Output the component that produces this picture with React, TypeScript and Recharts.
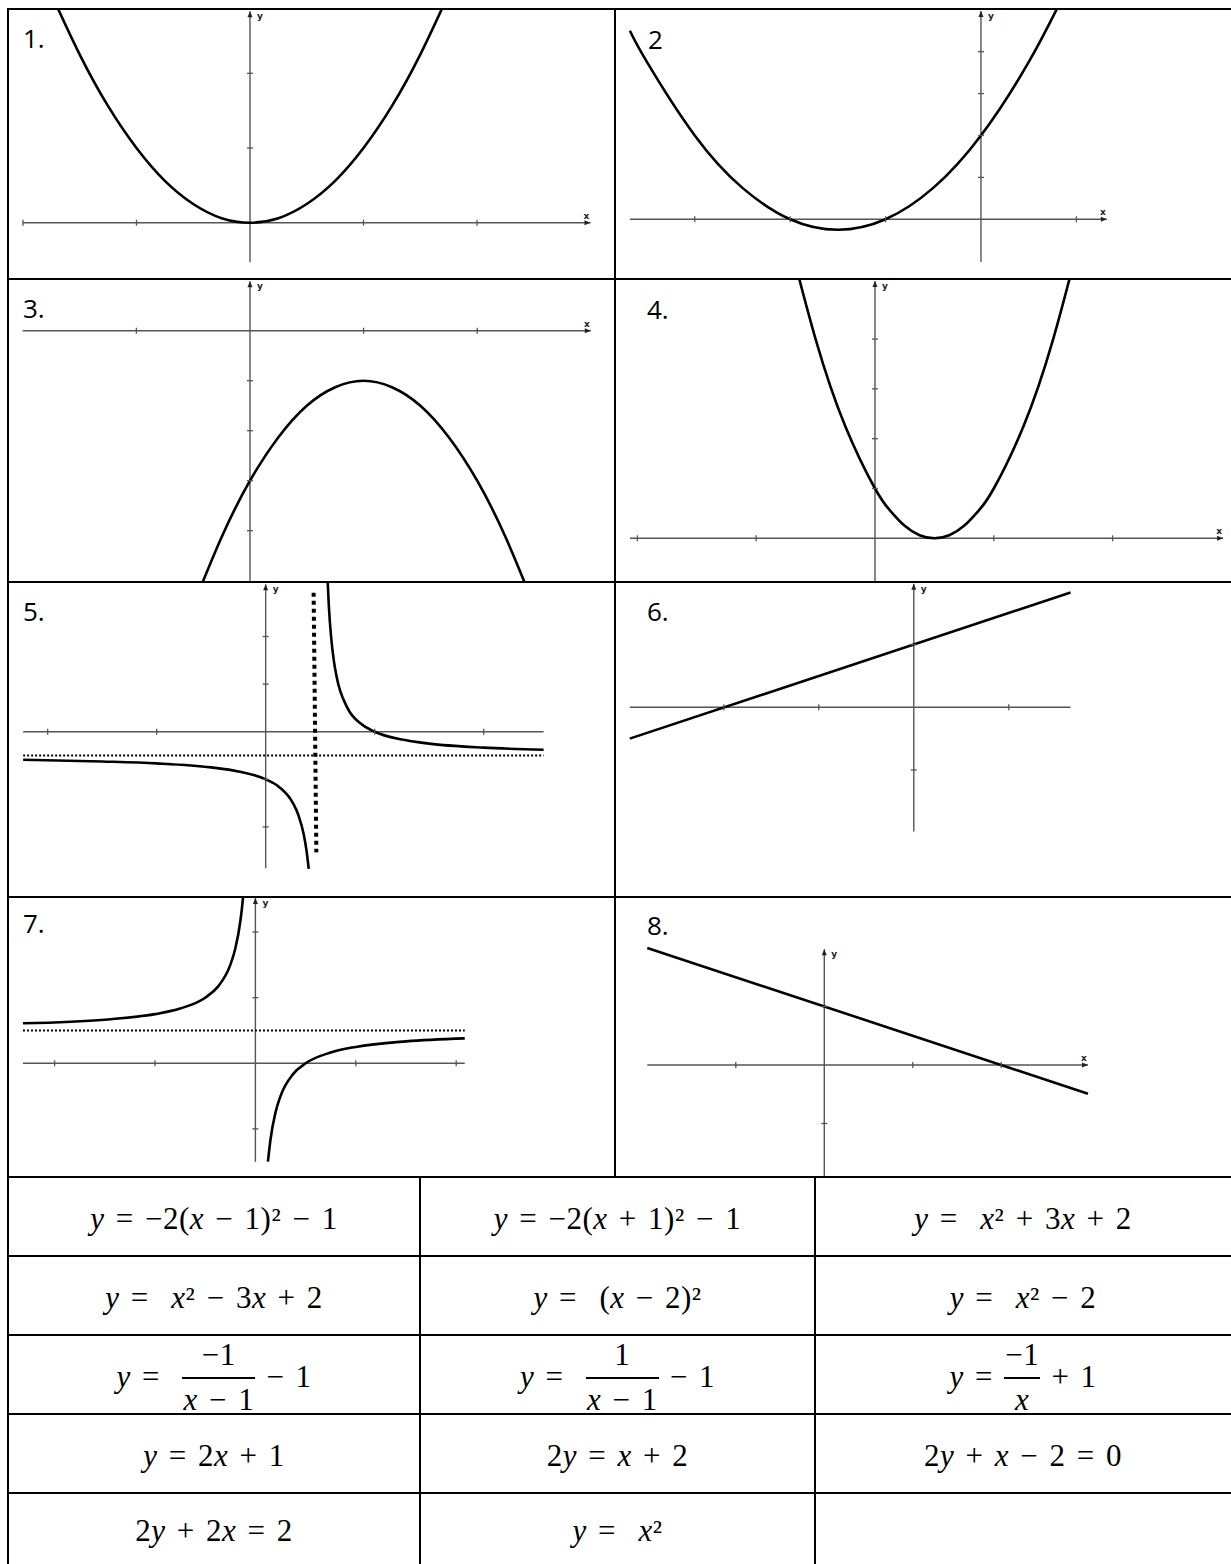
import React from 'react';
import { LineChart, Line, XAxis, YAxis, ReferenceLine, ReferenceDot } from 'recharts';

// ---- values ----

// 1. y = x^2
const G1_X = [-1.75, -1.5, -1.25, -1, -0.75, -0.5, -0.25, 0, 0.25, 0.5, 0.75, 1, 1.25, 1.5, 1.75];
const G1_Y = [3.06, 2.25, 1.56, 1, 0.56, 0.25, 0.06, 0, 0.06, 0.25, 0.56, 1, 1.56, 2.25, 3.06];
const G1_XTICKS = [-2, -1, 1, 2];
const G1_YTICKS = [1, 2];
const G1_XAXIS = [-2, 3];
const G1_YAXIS = [-0.53, 2.83];

// 2. y = x^2 + 3x + 2
const G2_X = [-3.68, -3.5, -3, -2.5, -2, -1.5, -1, -0.5, 0, 0.5, 0.85];
const G2_Y = [4.5, 3.75, 2, 0.75, 0, -0.25, 0, 0.75, 2, 3.75, 5.27];
const G2_XTICKS = [-3, -2, -1, 1];
const G2_YTICKS = [1, 2, 3, 4];
const G2_XAXIS = [-3.68, 1.32];
const G2_YAXIS = [-1.02, 4.97];

// 3. y = -2(x - 1)^2 - 1
const G3_X = [-0.5, -0.25, 0, 0.25, 0.5, 0.75, 1, 1.25, 1.5, 1.75, 2, 2.25, 2.5];
const G3_Y = [-5.5, -4.13, -3, -2.13, -1.5, -1.13, -1, -1.13, -1.5, -2.13, -3, -4.13, -5.5];
const G3_XTICKS = [-1, 1, 2];
const G3_YTICKS = [-1, -2, -3, -4];
const G3_XAXIS = [-2, 3];
const G3_YAXIS = [-5.1, 0.99];

// 4. y = (x - 2)^2
const G4_X = [-3, -2, -1, 0, 0.5, 1, 1.5, 2, 2.5, 3, 3.5, 4, 5, 6, 7];
const G4_Y = [25, 16, 9, 4, 2.25, 1, 0.25, 0, 0.25, 1, 2.25, 4, 9, 16, 25];
const G4_XTICKS = [-8, -4, 4, 8];
const G4_YTICKS = [4, 8, 12, 16];
const G4_XAXIS = [-8.25, 11.72];
const G4_YAXIS = [-3.6, 20.67];

// 5. y = 1/(x - 1) - 1
const G5A_X = [-4.45, -3, -2, -1, -0.5, 0, 0.25, 0.5, 0.6, 0.7, 0.75, 0.79];
const G5A_Y = [-1.18, -1.25, -1.33, -1.5, -1.67, -2, -2.33, -3, -3.5, -4.33, -5, -5.76];
const G5B_X = [1.13, 1.16, 1.2, 1.25, 1.3, 1.5, 1.75, 2, 2.5, 3, 4, 5.1];
const G5B_Y = [6.69, 5.25, 4, 3, 2.33, 1, 0.33, 0, -0.33, -0.5, -0.67, -0.76];
const G5_HASYM = [-4.45, 5.1, -1];
const G5_VASYM = [0.88, 5.84, 0.93, -5.07];
const G5_XTICKS = [-4, -2, 2, 4];
const G5_YTICKS = [4, 2, -2, -4];
const G5_XAXIS = [-4.45, 5.1];
const G5_YAXIS = [-5.74, 6.2];

// 6. 2y = x + 2
const G6_X = [-2.99, 1.65];
const G6_Y = [-0.5, 1.83];
const G6_XTICKS = [-2, -1, 1];
const G6_YTICKS = [1, -1];
const G6_XAXIS = [-2.99, 1.65];
const G6_YAXIS = [-1.98, 1.97];

// 7. y = -1/x + 1
const G7A_X = [-4.63, -3, -2, -1.5, -1, -0.75, -0.5, -0.4, -0.3, -0.25, -0.22];
const G7A_Y = [1.22, 1.33, 1.5, 1.67, 2, 2.33, 3, 3.5, 4.33, 5, 5.55];
const G7B_X = [0.25, 0.3, 0.4, 0.5, 0.75, 1, 1.5, 2, 3, 4.17];
const G7B_Y = [-3, -2.33, -1.5, -1, -0.33, 0, 0.33, 0.5, 0.67, 0.76];
const G7_HASYM = [-4.63, 4.17, 1];
const G7_XTICKS = [-4, -2, 2, 4];
const G7_YTICKS = [4, 2, -2];
const G7_XAXIS = [-4.63, 4.17];
const G7_YAXIS = [-3, 5.04];

// 8. 2y + x - 2 = 0
const G8_X = [-2, 2.98];
const G8_Y = [2, -0.49];
const G8_XTICKS = [-1, 1, 2];
const G8_YTICKS = [1, -1];
const G8_XAXIS = [-2, 2.98];
const G8_YAXIS = [-1.98, 1.98];

// ---- equations in the answer table ----
const ROW1 = ['y = −2(x − 1)² − 1', 'y = −2(x + 1)² − 1', 'y =  x² + 3x + 2'];
const ROW2 = ['y =  x² − 3x + 2', 'y =  (x − 2)²', 'y =  x² − 2'];
const ROW3 = ['y =  {−1|x − 1} − 1', 'y =  {1|x − 1} − 1', 'y = {−1|x} + 1'];
const ROW4 = ['y = 2x + 1', '2y = x + 2', '2y + x − 2 = 0'];
const ROW5 = ['2y + 2x = 2', 'y =  x²', ''];

type Pt = { x: number; y: number };
const pts = (xs: number[], ys: number[]): Pt[] => xs.map((x, i) => ({ x, y: ys[i] }));

const AXIS = '#555';

interface Curve { data: Pt[]; type: 'natural' | 'monotone' | 'linear' }
interface Guide { a: Pt; b: Pt; width: number; dash: string }
interface Panel {
  label: string;
  labelLeft: number; labelTop: number;
  left: number; top: number; width: number; height: number;
  xDomain: [number, number]; yDomain: [number, number];
  xAxis: number[]; yAxis: number[];
  xTicks: number[]; yTicks: number[];
  xArrow: boolean;
  curves: Curve[];
  guides: Guide[];
}

const PANELS: Panel[] = [
  {
    label: '1.', labelLeft: 23, labelTop: 25,
    left: 8, top: 9, width: 607, height: 270,
    xDomain: [-2.132, 3.216], yDomain: [-0.754, 2.861],
    xAxis: G1_XAXIS, yAxis: G1_YAXIS, xTicks: G1_XTICKS, yTicks: G1_YTICKS, xArrow: true,
    curves: [{ data: pts(G1_X, G1_Y), type: 'natural' }], guides: [],
  },
  {
    label: '2', labelLeft: 648, labelTop: 26,
    left: 615, top: 9, width: 616, height: 270,
    xDomain: [-3.836, 2.621], yDomain: [-1.425, 5.019],
    xAxis: G2_XAXIS, yAxis: G2_YAXIS, xTicks: G2_XTICKS, yTicks: G2_YTICKS, xArrow: true,
    curves: [{ data: pts(G2_X, G2_Y), type: 'natural' }], guides: [],
  },
  {
    label: '3.', labelLeft: 23, labelTop: 295,
    left: 8, top: 279, width: 607, height: 303,
    xDomain: [-2.13, 3.213], yDomain: [-5.026, 1.034],
    xAxis: G3_XAXIS, yAxis: G3_YAXIS, xTicks: G3_XTICKS, yTicks: G3_YTICKS, xArrow: true,
    curves: [{ data: pts(G3_X, G3_Y), type: 'natural' }], guides: [],
  },
  {
    label: '4.', labelLeft: 647, labelTop: 296,
    left: 615, top: 279, width: 616, height: 303,
    xDomain: [-8.754, 11.987], yDomain: [-3.51, 20.827],
    xAxis: G4_XAXIS, yAxis: G4_YAXIS, xTicks: G4_XTICKS, yTicks: G4_YTICKS, xArrow: true,
    curves: [{ data: pts(G4_X, G4_Y), type: 'natural' }], guides: [],
  },
  {
    label: '5.', labelLeft: 23, labelTop: 598,
    left: 8, top: 582, width: 607, height: 315,
    xDomain: [-4.728, 6.41], yDomain: [-6.945, 6.29],
    xAxis: G5_XAXIS, yAxis: G5_YAXIS, xTicks: G5_XTICKS, yTicks: G5_YTICKS, xArrow: false,
    curves: [
      { data: pts(G5A_X, G5A_Y), type: 'monotone' },
      { data: pts(G5B_X, G5B_Y), type: 'monotone' },
    ],
    guides: [
      { a: { x: G5_HASYM[0], y: G5_HASYM[2] }, b: { x: G5_HASYM[1], y: G5_HASYM[2] }, width: 2, dash: '2 2' },
      { a: { x: G5_VASYM[0], y: G5_VASYM[1] }, b: { x: G5_VASYM[2], y: G5_VASYM[3] }, width: 4, dash: '4 4' },
    ],
  },
  {
    label: '6.', labelLeft: 647, labelTop: 598,
    left: 615, top: 582, width: 616, height: 315,
    xDomain: [-3.145, 3.339], yDomain: [-3.026, 1.998],
    xAxis: G6_XAXIS, yAxis: G6_YAXIS, xTicks: G6_XTICKS, yTicks: G6_YTICKS, xArrow: false,
    curves: [{ data: pts(G6_X, G6_Y), type: 'linear' }], guides: [],
  },
  {
    label: '7.', labelLeft: 23, labelTop: 910,
    left: 8, top: 897, width: 607, height: 280,
    xDomain: [-4.928, 7.163], yDomain: [-3.466, 5.07],
    xAxis: G7_XAXIS, yAxis: G7_YAXIS, xTicks: G7_XTICKS, yTicks: G7_YTICKS, xArrow: false,
    curves: [
      { data: pts(G7A_X, G7A_Y), type: 'monotone' },
      { data: pts(G7B_X, G7B_Y), type: 'monotone' },
    ],
    guides: [
      { a: { x: G7_HASYM[0], y: G7_HASYM[2] }, b: { x: G7_HASYM[1], y: G7_HASYM[2] }, width: 2, dash: '2 2' },
    ],
  },
  {
    label: '8.', labelLeft: 647, labelTop: 912,
    left: 615, top: 897, width: 616, height: 280,
    xDomain: [-2.365, 4.596], yDomain: [-1.915, 2.872],
    xAxis: G8_XAXIS, yAxis: G8_YAXIS, xTicks: G8_XTICKS, yTicks: G8_YTICKS, xArrow: true,
    curves: [{ data: pts(G8_X, G8_Y), type: 'linear' }], guides: [],
  },
];

const xTick = (p: any) => (
  <line x1={p.cx} y1={p.cy - 3} x2={p.cx} y2={p.cy + 3} stroke={AXIS} strokeWidth={1.3} />
);
const yTick = (p: any) => (
  <line x1={p.cx - 3} y1={p.cy} x2={p.cx + 3} y2={p.cy} stroke={AXIS} strokeWidth={1.3} />
);
const upArrow = (p: any) => (
  <g>
    <path d={`M${p.cx},${p.cy} L${p.cx - 2.5},${p.cy + 6} L${p.cx + 2.5},${p.cy + 6} Z`} fill="#222" />
    <text x={p.cx + 7} y={p.cy + 8} fontSize={9} fontWeight={700} fill="#222" fontFamily="DejaVu Sans, sans-serif">y</text>
  </g>
);
const rightArrow = (p: any) => (
  <g>
    <path d={`M${p.cx},${p.cy} L${p.cx - 6},${p.cy - 2.5} L${p.cx - 6},${p.cy + 2.5} Z`} fill="#222" />
    <text x={p.cx - 4} y={p.cy - 4} fontSize={9} fontWeight={700} fill="#222" textAnchor="middle" fontFamily="DejaVu Sans, sans-serif">x</text>
  </g>
);

function Graph({ p }: { p: Panel }) {
  const [x0, x1] = p.xAxis;
  const [y0, y1] = p.yAxis;
  return (
    <div style={{ position: 'absolute', left: p.left, top: p.top }}>
      <LineChart width={p.width} height={p.height} margin={{ top: 0, right: 0, bottom: 0, left: 0 }}>
        <XAxis type="number" dataKey="x" domain={p.xDomain} hide allowDataOverflow />
        <YAxis type="number" dataKey="y" domain={p.yDomain} hide allowDataOverflow />
        <ReferenceLine segment={[{ x: x0, y: 0 }, { x: x1, y: 0 }]} stroke={AXIS} strokeWidth={1.4} ifOverflow="hidden" />
        <ReferenceLine segment={[{ x: 0, y: y0 }, { x: 0, y: y1 }]} stroke={AXIS} strokeWidth={1.4} ifOverflow="hidden" />
        {p.xTicks.map((t) => (
          <ReferenceDot key={'xt' + t} x={t} y={0} r={0} ifOverflow="visible" shape={xTick} />
        ))}
        {p.yTicks.map((t) => (
          <ReferenceDot key={'yt' + t} x={0} y={t} r={0} ifOverflow="visible" shape={yTick} />
        ))}
        <ReferenceDot x={0} y={y1} r={0} ifOverflow="visible" shape={upArrow} />
        {p.xArrow && <ReferenceDot x={x1} y={0} r={0} ifOverflow="visible" shape={rightArrow} />}
        {p.guides.map((g, i) => (
          <ReferenceLine
            key={'g' + i}
            segment={[g.a, g.b]}
            stroke="#000"
            strokeWidth={g.width}
            strokeDasharray={g.dash}
            ifOverflow="hidden"
          />
        ))}
        {p.curves.map((c, i) => (
          <Line
            key={'c' + i}
            data={c.data}
            dataKey="y"
            type={c.type}
            stroke="#000"
            strokeWidth={2.6}
            dot={false}
            activeDot={false}
            isAnimationActive={false}
          />
        ))}
      </LineChart>
      <div
        style={{
          position: 'absolute',
          left: p.labelLeft - p.left,
          top: p.labelTop - p.top,
          fontFamily: '"Open Sans", sans-serif',
          fontSize: 26,
          lineHeight: '26px',
          color: '#000',
        }}
      >
        {p.label}
      </div>
    </div>
  );
}

function mathText(s: string, key: string) {
  return s.split('').map((ch, i) =>
    ch === 'x' || ch === 'y' ? (
      <i key={key + i}>{ch}</i>
    ) : (
      <React.Fragment key={key + i}>{ch}</React.Fragment>
    )
  );
}

function Equation({ s }: { s: string }) {
  const m = s.match(/^(.*)\{([^|]*)\|([^}]*)\}(.*)$/);
  if (!m) return <span>{mathText(s, 'e')}</span>;
  return (
    <span style={{ display: 'flex', alignItems: 'center' }}>
      <span>{mathText(m[1], 'a')}</span>
      <span style={{ display: 'inline-flex', flexDirection: 'column', alignItems: 'center' }}>
        <span style={{ lineHeight: '29px', padding: '0 1px', marginBottom: 8 }}>{mathText(m[2], 'n')}</span>
        <span style={{ alignSelf: 'stretch', borderTop: '2.5px solid #000' }} />
        <span style={{ lineHeight: '29px', padding: '0 1px', marginTop: 6 }}>{mathText(m[3], 'd')}</span>
      </span>
      <span>{mathText(m[4], 'b')}</span>
    </span>
  );
}

const TABLE = [ROW1, ROW2, ROW3, ROW4, ROW5];
const ROW_LINES = [1177, 1256, 1335, 1414, 1493, 1564];
const COL_LINES = [8, 420, 815, 1231];

export default function App() {
  const hRules = [9, 279, 582, 897, 1177, 1256, 1335, 1414, 1493];
  return (
    <div
      style={{
        position: 'absolute',
        left: 0,
        top: 0,
        width: 1231,
        height: 1564,
        background: '#fff',
        overflow: 'hidden',
      }}
    >
      {PANELS.map((p) => (
        <Graph key={p.label} p={p} />
      ))}

      {TABLE.map((row, r) =>
        row.map((s, c) => (
          <div
            key={r + '-' + c}
            style={{
              position: 'absolute',
              left: COL_LINES[c],
              top: ROW_LINES[r],
              width: COL_LINES[c + 1] - COL_LINES[c],
              height: ROW_LINES[r + 1] - ROW_LINES[r],
              boxSizing: 'border-box',
              paddingTop: 4,
              display: 'flex',
              alignItems: 'center',
              justifyContent: 'center',
              fontFamily: '"Liberation Serif", "Times New Roman", serif',
              fontSize: 31,
              lineHeight: '31px',
              letterSpacing: 0.5,
              wordSpacing: 3,
              whiteSpace: 'pre',
              color: '#000',
            }}
          >
            {s && <Equation s={s} />}
          </div>
        ))
      )}

      {hRules.map((y) => (
        <div key={'h' + y} style={{ position: 'absolute', left: 7, top: y - 1, width: 1224, height: 2, background: '#000' }} />
      ))}
      <div style={{ position: 'absolute', left: 7, top: 8, width: 2, height: 1556, background: '#000' }} />
      <div style={{ position: 'absolute', left: 614, top: 8, width: 2, height: 1169, background: '#000' }} />
      <div style={{ position: 'absolute', left: 419, top: 1177, width: 2, height: 387, background: '#000' }} />
      <div style={{ position: 'absolute', left: 814, top: 1177, width: 2, height: 387, background: '#000' }} />
    </div>
  );
}
